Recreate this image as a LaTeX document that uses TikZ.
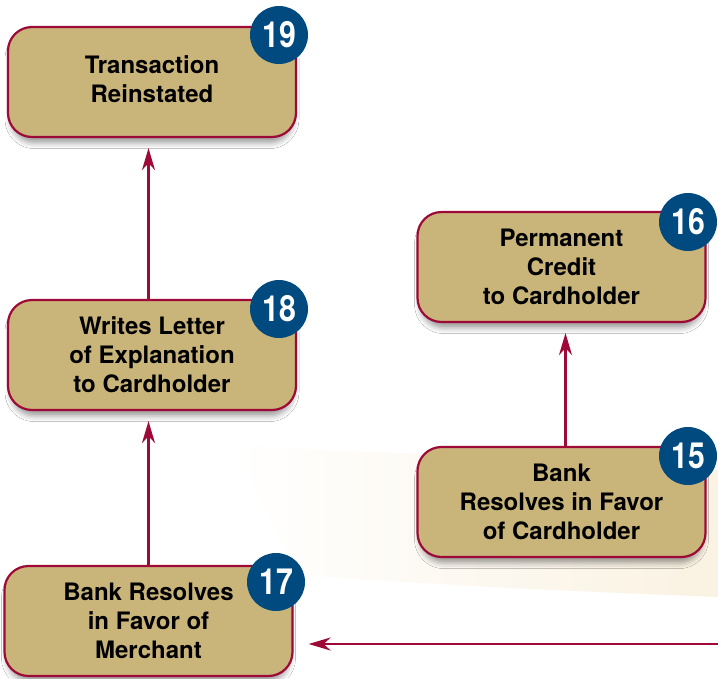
\documentclass[tikz,border=0pt]{standalone}
\usepackage{fontspec}
\setmainfont{TeX Gyre Heros}
\newfontfamily\numfont[FakeStretch=0.84]{TeX Gyre Heros}
\usetikzlibrary{arrows.meta,shadows.blur}
\definecolor{boxfill}{RGB}{201,181,122}
\definecolor{boxline}{RGB}{158,10,55}
\definecolor{badgeblue}{RGB}{0,74,128}
\definecolor{cream}{RGB}{250,242,226}
\begin{document}
\begin{tikzpicture}[x=1pt,y=-1pt,
  stepbox/.style={draw=boxline, line width=2.2pt, fill=boxfill, rounded corners=24pt,
    minimum width=288pt, minimum height=110pt, inner sep=0pt, align=center,
    font=\fontsize{24}{29}\selectfont\bfseries,
    blur shadow={shadow xshift=0pt, shadow yshift=-7pt, shadow blur radius=6pt, shadow opacity=40, shadow scale=0.98}},
  badge/.style={circle, fill=badgeblue, minimum size=58pt, inner sep=0pt, text=white,
    font=\numfont\fontsize{36}{36}\selectfont\bfseries},
  arr/.style={draw=boxline, line width=2.5pt, -{Stealth[length=22pt,width=13pt,inset=7pt]}}]
\useasboundingbox (0,0) rectangle (718,678);
\fill[white] (0,0) rectangle (718,678);
% faint background band
\shade[left color=white, right color=cream] (232,446) .. controls (450,455) .. (718,470) -- (718,597) .. controls (500,588) .. (300,575) -- cycle;
% boxes
\node[stepbox] (b19) at (152,82) {\raisebox{2pt}{\begin{tabular}{@{}c@{}}Transaction\\Reinstated\end{tabular}}};
\node[stepbox] (b18) at (152,355) {Writes Letter\\of Explanation\\to Cardholder};
\node[stepbox] (b17) at (148.5,621) {Bank Resolves\\in Favor of\\Merchant};
\node[stepbox] (b16) at (561.5,267) {Permanent\\Credit\\to Cardholder};
\node[stepbox] (b15) at (561.5,502) {Bank\\Resolves in Favor\\of Cardholder};
% badges
\node[badge] (n19) at (279,35) {19};
\node[badge] (n18) at (279,309) {18};
\node[badge] (n17) at (276,582) {17};
\node[badge] (n16) at (688,222) {16};
\node[badge] (n15) at (688,456) {15};
% connectors
\coordinate (inright) at (718,644);
\draw[arr, shorten >=10pt] (b18.north -| b17.north) -- (b19.south -| b17.north);
\draw[arr, shorten >=10pt] (b17.north) -- (b18.south -| b17.north);
\draw[arr, shorten >=10pt] ([xshift=4pt]b15.north) -- ([xshift=4pt]b16.south);
\draw[arr, shorten >=15pt] (inright) -- (b17.east |- inright);
\end{tikzpicture}
\end{document}
